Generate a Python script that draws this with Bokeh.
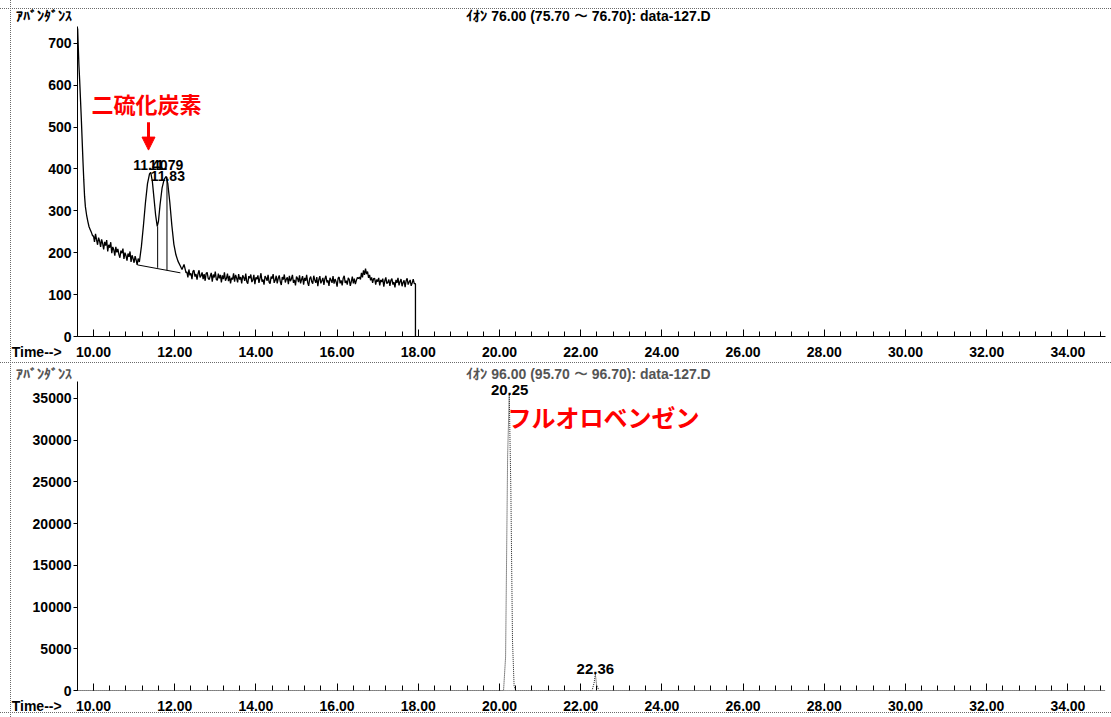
from bokeh.plotting import figure
from bokeh.layouts import column
from bokeh.models import (Range1d, SingleIntervalTicker, FixedTicker, NumeralTickFormatter, Label,
                          Arrow, NormalHead, LinearAxis)
from bokeh.core.properties import value
from bokeh.embed import file_html
from bokeh.resources import INLINE

# ---------------- data ----------------
# Ion 76 chromatogram (top) : retention time (min) and abundance
top_time = [9.61, 9.62, 9.64, 9.66, 9.68, 9.70, 9.72, 9.74, 9.76, 9.78, 9.80, 9.83, 9.86, 9.89, 9.92, 9.95, 9.98,
            10.000, 10.025, 10.050, 10.075, 10.100, 10.125, 10.150, 10.175, 10.200, 10.225,
            10.250, 10.275, 10.300, 10.325, 10.350, 10.375, 10.400, 10.425, 10.450, 10.475,
            10.500, 10.525, 10.550, 10.575, 10.600, 10.625, 10.650, 10.675, 10.700, 10.725,
            10.750, 10.775, 10.800, 10.825, 10.850, 10.875, 10.900, 10.925, 10.950, 10.975,
            11.000, 11.025, 11.050, 11.075, 11.100,
            11.13, 11.18, 11.23, 11.28, 11.33, 11.38, 11.41, 11.45, 11.49, 11.53, 11.57, 11.60, 11.64, 11.69,
            11.74, 11.79, 11.83, 11.88, 11.93, 11.98, 12.03, 12.08, 12.13, 12.18, 12.23, 12.28,
            12.300, 12.325, 12.350, 12.375, 12.400, 12.425, 12.450, 12.475, 12.500, 12.525,
            12.550, 12.575, 12.600, 12.625, 12.650, 12.675, 12.700, 12.725, 12.750, 12.775,
            12.800, 12.825, 12.850, 12.875, 12.900, 12.925, 12.950, 12.975, 13.000, 13.025,
            13.050, 13.075, 13.100, 13.125, 13.150, 13.175, 13.200, 13.225, 13.250, 13.275,
            13.300, 13.325, 13.350, 13.375, 13.400, 13.425, 13.450, 13.475, 13.500, 13.525,
            13.550, 13.575, 13.600, 13.625, 13.650, 13.675, 13.700, 13.725, 13.750, 13.775,
            13.800, 13.825, 13.850, 13.875, 13.900, 13.925, 13.950, 13.975, 14.000, 14.025,
            14.050, 14.075, 14.100, 14.125, 14.150, 14.175, 14.200, 14.225, 14.250, 14.275,
            14.300, 14.325, 14.350, 14.375, 14.400, 14.425, 14.450, 14.475, 14.500, 14.525,
            14.550, 14.575, 14.600, 14.625, 14.650, 14.675, 14.700, 14.725, 14.750, 14.775,
            14.800, 14.825, 14.850, 14.875, 14.900, 14.925, 14.950, 14.975, 15.000, 15.025,
            15.050, 15.075, 15.100, 15.125, 15.150, 15.175, 15.200, 15.225, 15.250, 15.275,
            15.300, 15.325, 15.350, 15.375, 15.400, 15.425, 15.450, 15.475, 15.500, 15.525,
            15.550, 15.575, 15.600, 15.625, 15.650, 15.675, 15.700, 15.725, 15.750, 15.775,
            15.800, 15.825, 15.850, 15.875, 15.900, 15.925, 15.950, 15.975, 16.000, 16.025,
            16.050, 16.075, 16.100, 16.125, 16.150, 16.175, 16.200, 16.225, 16.250, 16.275,
            16.300, 16.325, 16.350, 16.375, 16.400, 16.425, 16.450, 16.475, 16.500, 16.525,
            16.550, 16.575, 16.600, 16.625, 16.650, 16.675, 16.700, 16.725, 16.750, 16.775,
            16.800, 16.825, 16.850, 16.875, 16.900, 16.925, 16.950, 16.975, 17.000, 17.025,
            17.050, 17.075, 17.100, 17.125, 17.150, 17.175, 17.200, 17.225, 17.250, 17.275,
            17.300, 17.325, 17.350, 17.375, 17.400, 17.425, 17.450, 17.475, 17.500, 17.525,
            17.550, 17.575, 17.600, 17.625, 17.650, 17.675, 17.700, 17.725, 17.750, 17.775,
            17.800, 17.825, 17.850, 17.875, 17.900, 17.930, 17.930]
top_abund = [735, 705, 650, 610, 565, 520, 470, 420, 375, 335, 310, 290, 275, 262, 255, 248, 240,
             240, 226, 245, 231, 219, 236, 228, 214, 232, 222,
             208, 226, 217, 230, 203, 219, 212, 225, 199, 214,
             207, 193, 214, 201, 209, 196, 188, 205, 199, 210,
             185, 200, 193, 181, 198, 190, 203, 178, 194, 186,
             176, 192, 183, 171, 186,
             178, 215, 265, 320, 365, 388, 392, 370, 330, 290, 263, 275, 315, 355,
             375, 382, 365, 320, 265, 220, 195, 180, 170, 160, 172, 152,
             154, 141, 160, 146, 151, 137, 156, 158, 143, 149,
             136, 150, 158, 141, 145, 153, 137, 149, 133, 151,
             153, 139, 136, 144, 152, 131, 148, 141, 155, 136,
             134, 150, 139, 147, 129, 146, 137, 153, 133, 139,
             150, 132, 145, 127, 140, 136, 151, 131, 147, 140,
             129, 149, 136, 142, 127, 146, 141, 133, 150, 131,
             126, 144, 139, 148, 130, 135, 147, 125, 141, 137,
             146, 128, 139, 151, 131, 136, 124, 144, 140, 133,
             147, 130, 126, 143, 138, 149, 128, 134, 145, 127,
             139, 146, 131, 123, 142, 136, 148, 129, 137, 141,
             125, 145, 132, 138, 147, 128, 135, 122, 143, 139,
             130, 146, 127, 136, 144, 124, 140, 133, 147, 129,
             121, 138, 143, 131, 126, 145, 135, 128, 142, 120,
             136, 144, 127, 133, 140, 123, 138, 145, 129, 134,
             121, 140, 135, 128, 144, 126, 137, 131, 119, 139,
             142, 127, 134, 122, 139, 145, 128, 133, 124, 140,
             136, 121, 131, 143, 127, 138, 125, 134, 141, 138,
             142, 136, 152, 141, 158, 147, 162, 149, 155, 140,
             147, 134, 141, 128, 138, 139, 124, 136, 131, 140,
             122, 135, 130, 138, 119, 133, 141, 126, 129, 136,
             121, 134, 138, 124, 130, 117, 135, 128, 140, 122,
             131, 137, 120, 129, 134, 118, 133, 139, 124, 130,
             135, 121, 128, 137, 126, 126, 0]

# integration marks (top)
base_time = [11.08, 12.14]
base_abund = [171, 152]
drop_time = [11.58, 11.81]
drop_low = [164, 158]
drop_high = [263, 381]

top_peak_time = [11.40, 11.79, 11.83]
top_peak_abund = [393, 393, 366]
top_peak_label = ["11.40", "11.79", "11.83"]

# Ion 96 chromatogram (bottom)
bot_time = [9.61, 20.05, 20.10, 20.15, 20.20, 20.24, 20.28, 20.32, 20.36, 20.40,
            22.28, 22.33, 22.36, 22.39, 22.45, 34.92]
bot_abund = [0, 0, 0, 4000, 28000, 35450, 24000, 6000, 500, 0,
             0, 900, 2000, 700, 0, 0]

bot_peak_time = [20.25, 22.36]
bot_peak_abund = [35450, 2000]
bot_peak_label = ["20.25", "22.36"]

major_times = [10, 12, 14, 16, 18, 20, 22, 24, 26, 28, 30, 32, 34]

top_title = "ｲｵﾝ  76.00 (75.70 〜 76.70): data-127.D"
bot_title = "ｲｵﾝ  96.00 (95.70 〜 96.70): data-127.D"
y_name = "ｱﾊﾞﾝﾀﾞﾝｽ"
x_name = "Time-->"
top_compound = "二硫化炭素"
bot_compound = "フルオロベンゼン"

# ---------------- geometry helpers ----------------
W = 1111
T0 = 9.606
PPM = 40.6          # pixels per minute
T1 = T0 + (W - 6 - 77) / PPM
EDGE_TICK = 9.607   # tick at the left frame edge that carries the corner texts
TITLE_TICK = 22.242 # centre of the header line (page x ~590)
NBSP = "\u00a0"

def tx(px):
    return T0 + (px - 77) / PPM

TOP_H = 362
TOP_YMAX = 740.0
def top_v(py):
    return (337 - py) * TOP_YMAX / 311.0

BOT_H = 355
BOT_YMAX = 37031.0
def bot_v(py):  # absolute page y
    return (690 - py) * BOT_YMAX / 310.0

FONT = "Liberation Sans"
JP = "Noto Sans CJK JP"
DOT = "#6a6a6a"
minor_times = [round(9.6 + 0.4 * k, 2) for k in range(1, 64)]


def frame_css(lines_h, line_v_x):
    """dotted border lines drawn as CSS backgrounds behind the transparent canvas border"""
    imgs, pos, size, rep = [], [], [], []
    for y in lines_h:
        imgs.append(f"linear-gradient(to right, {DOT} 50%, rgba(255,255,255,0) 50%)")
        pos.append(f"0px {y}px")
        size.append("2px 1px")
        rep.append("repeat-x")
    imgs.append(f"linear-gradient(to bottom, {DOT} 50%, rgba(255,255,255,0) 50%)")
    pos.append(f"{line_v_x}px 0px")
    size.append("1px 2px")
    rep.append("repeat-y")
    return {"background-color": "white", "background-image": ", ".join(imgs),
            "background-position": ", ".join(pos), "background-size": ", ".join(size),
            "background-repeat": ", ".join(rep)}


def style(p, yint, bottom_dotted=False):
    p.xgrid.visible = False
    p.ygrid.visible = False
    p.outline_line_color = None
    p.background_fill_color = "white"
    p.border_fill_alpha = 0
    xa = p.xaxis[0]
    xa.ticker = FixedTicker(ticks=[EDGE_TICK] + major_times, minor_ticks=minor_times)
    xa.formatter = NumeralTickFormatter(format="0.00")
    xa.major_label_overrides = {EDGE_TICK: x_name + NBSP * 21}
    xa.major_tick_in = 7
    xa.major_tick_out = 0
    xa.minor_tick_in = 5
    xa.minor_tick_out = 0
    xa.major_label_standoff = 7
    xa.major_label_text_font = FONT
    xa.major_label_text_font_size = "14px"
    xa.major_label_text_font_style = "bold"
    xa.major_label_text_color = "black"
    xa.axis_line_color = "black"
    if bottom_dotted:
        xa.axis_line_dash = "1 1"
        xa.axis_line_color = "#444444"
    ya = p.yaxis[0]
    ya.ticker = SingleIntervalTicker(interval=yint, num_minor_ticks=0)
    ya.formatter = NumeralTickFormatter(format="0")
    ya.major_tick_in = 0
    ya.major_tick_out = 4
    ya.minor_tick_in = 0
    ya.minor_tick_out = 0
    ya.major_label_standoff = 2
    ya.major_label_text_font = FONT
    ya.major_label_text_font_size = "14px"
    ya.major_label_text_font_style = "bold"
    ya.major_label_text_color = "black"
    ya.axis_line_color = "black"


def header(p, title, color, standoff):
    """header line above the frame: 'ｱﾊﾞﾝﾀﾞﾝｽ' at the left corner and the ion title"""
    ax = LinearAxis(ticker=FixedTicker(ticks=[EDGE_TICK, TITLE_TICK], minor_ticks=[]))
    ax.major_label_overrides = {EDGE_TICK: y_name + NBSP * 17, TITLE_TICK: title}
    ax.major_tick_in = 0
    ax.major_tick_out = 0
    ax.minor_tick_in = 0
    ax.minor_tick_out = 0
    ax.axis_line_color = None
    ax.major_label_standoff = standoff
    ax.major_label_text_font = FONT
    ax.major_label_text_font_size = "14px"
    ax.major_label_text_font_style = "bold"
    ax.major_label_text_color = color
    p.add_layout(ax, "above")


# ---------------- top panel ----------------
p1 = figure(width=W, height=TOP_H, output_backend="svg", toolbar_location=None,
            x_range=Range1d(T0, T1), y_range=Range1d(0, TOP_YMAX),
            min_border_left=77, min_border_right=6, min_border_top=26, min_border_bottom=25)
style(p1, 100)
header(p1, top_title, "black", 3)
p1.styles = frame_css([8], 10)

p1.line(top_time, top_abund, line_color="black", line_width=1.3)
p1.line(base_time, base_abund, line_color="black", line_width=1)
p1.segment(x0=drop_time, y0=drop_low, x1=drop_time, y1=drop_high, line_color="black", line_width=1)
p1.text(x=top_peak_time, y=top_peak_abund, text=top_peak_label, text_align="center",
        text_baseline="bottom", y_offset=-2, text_font=value(FONT), text_font_size="14px",
        text_font_style="bold", text_color="black")

p1.add_layout(Label(x=tx(91), y=top_v(103), text=top_compound, text_font=JP, text_font_size="22px",
                    text_font_style="bold", text_baseline="middle", text_color="#ff0000"))
p1.add_layout(Arrow(end=NormalHead(size=13, fill_color="#ff0000", line_color="#ff0000"),
                    x_start=tx(148), y_start=top_v(122), x_end=tx(148), y_end=top_v(150),
                    line_color="#ff0000", line_width=3))

# ---------------- bottom panel ----------------
OFF = TOP_H
p2 = figure(width=W, height=BOT_H, output_backend="svg", toolbar_location=None,
            x_range=Range1d(T0, T1), y_range=Range1d(0, BOT_YMAX),
            min_border_left=77, min_border_right=6, min_border_top=18, min_border_bottom=27)
style(p2, 5000, bottom_dotted=True)
header(p2, bot_title, "#555555", 0)
p2.styles = frame_css([0, 712 - OFF], 10)

p2.line(bot_time, bot_abund, line_color="#222222", line_width=1, line_dash="1 1")
p2.text(x=bot_peak_time, y=bot_peak_abund, text=bot_peak_label, text_align="center",
        text_baseline="bottom", y_offset=0, text_font=value(FONT), text_font_size="15px",
        text_font_style="bold", text_color="black")

p2.add_layout(Label(x=tx(507), y=bot_v(415), text=bot_compound, text_font=JP, text_font_size="24px",
                    text_font_style="bold", text_baseline="middle", text_color="#ff0000"))

layout = column(p1, p2, spacing=0)
open("out.html", "w").write(file_html(layout, INLINE))
